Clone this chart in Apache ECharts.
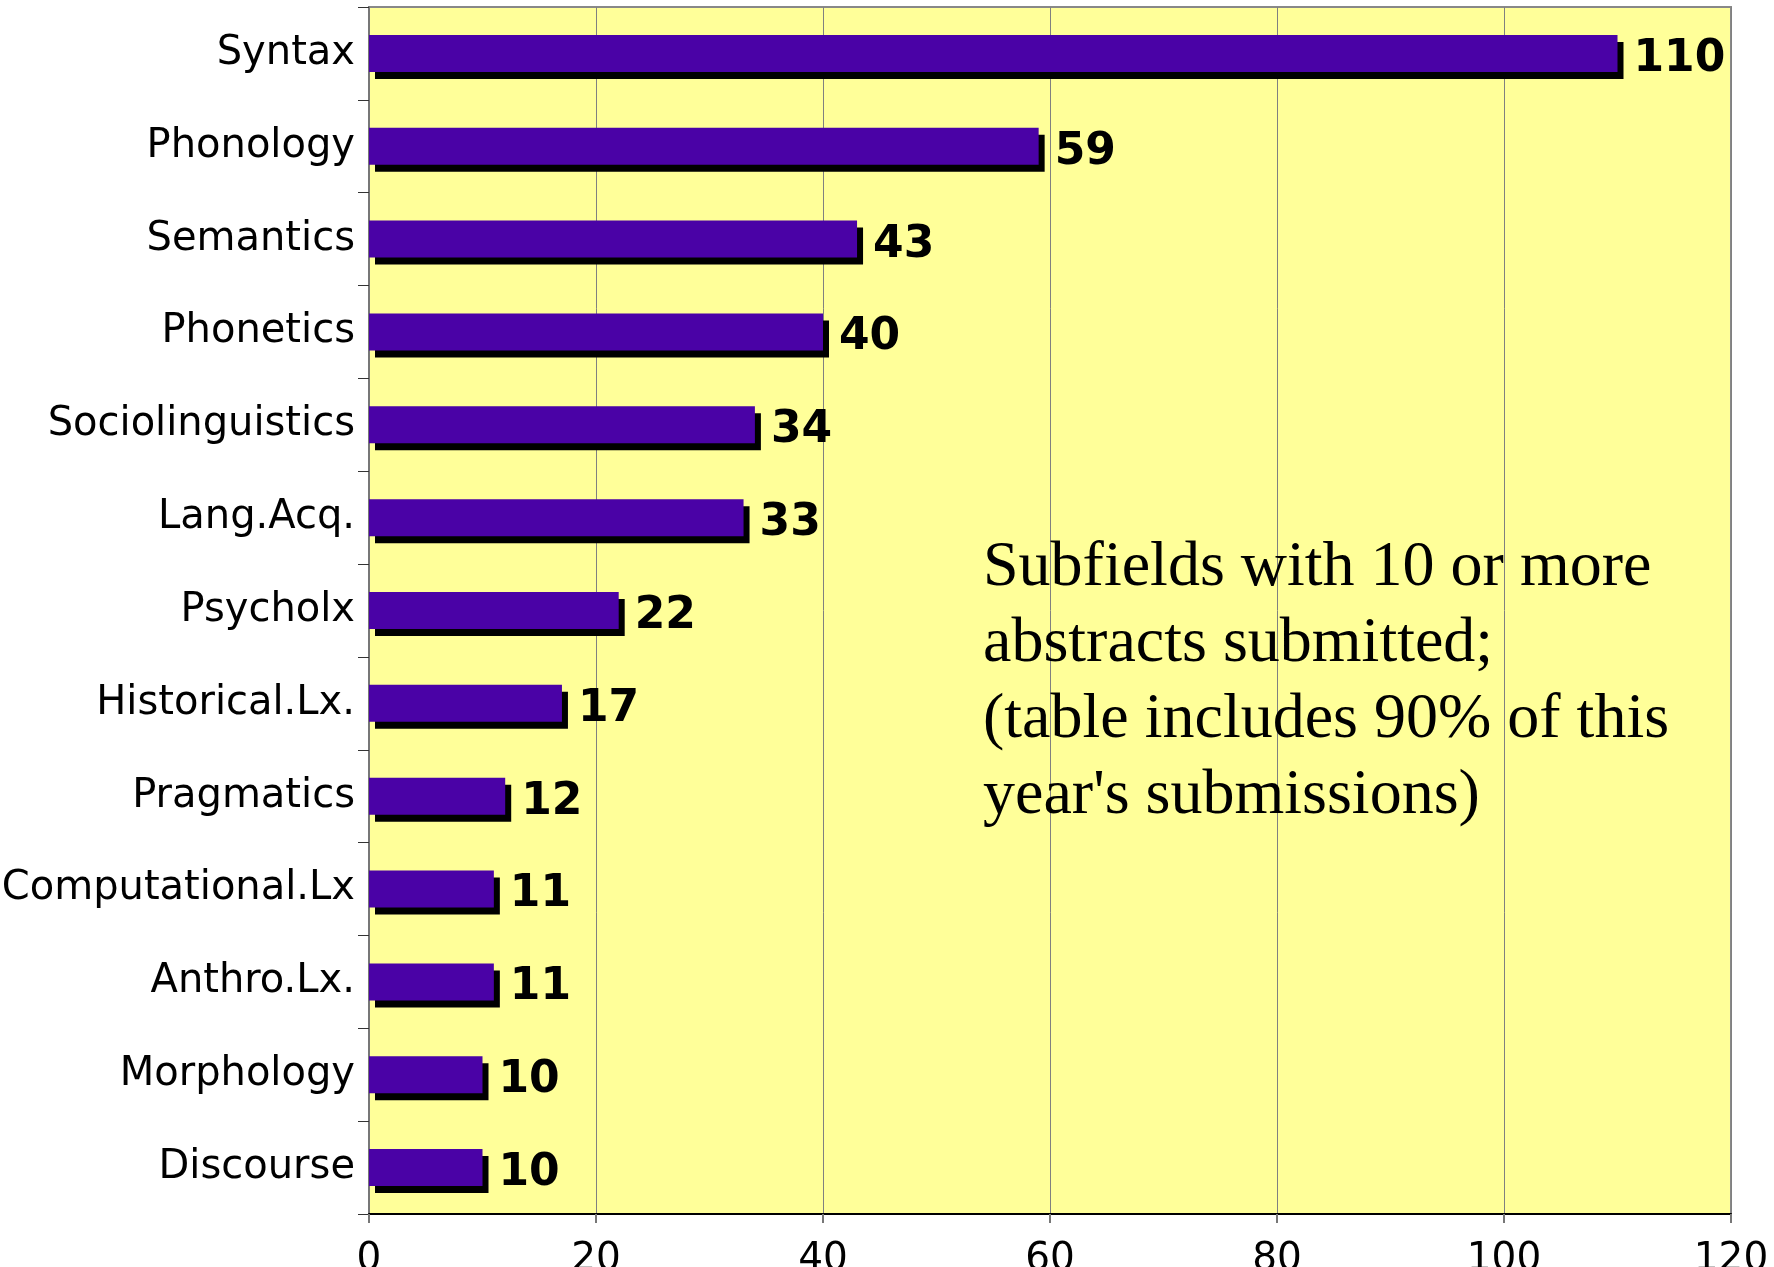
<!DOCTYPE html>
<html>
<head>
<meta charset="utf-8">
<script src="https://cdn.jsdelivr.net/npm/echarts@6/dist/echarts.min.js"></script>
<style>
  html, body { margin: 0; padding: 0; background: #fff; }
  #chart { width: 1774px; height: 1267px; }
</style>
</head>
<body>
<div id="chart"></div>
<script>
var categories = ['Syntax', 'Phonology', 'Semantics', 'Phonetics', 'Sociolinguistics',
    'Lang.Acq.', 'Psycholx', 'Historical.Lx.', 'Pragmatics', 'Computational.Lx',
    'Anthro.Lx.', 'Morphology', 'Discourse'];
var counts = [110, 59, 43, 40, 34, 33, 22, 17, 12, 11, 11, 10, 10];
var xTicks = [0, 20, 40, 60, 80, 100, 120];
var noteLines = ['Subfields with 10 or more', 'abstracts submitted;',
    '(table includes 90% of this', "year's submissions)"];

var chart = echarts.init(document.getElementById('chart'));
var option = {
    backgroundColor: '#ffffff',
    animation: false,
    grid: {
        left: 369,
        right: 43,
        top: 7,
        bottom: 53,
        outerBoundsMode: 'none',
        containLabel: false,
        show: true,
        backgroundColor: '#FFFF99',
        borderColor: '#888888',
        borderWidth: 2
    },
    xAxis: {
        type: 'value',
        min: xTicks[0],
        max: xTicks[xTicks.length - 1],
        interval: 20,
        axisLine: { show: true, lineStyle: { color: '#000000', width: 2 } },
        axisTick: { show: true, length: 9, lineStyle: { color: '#777777', width: 2 } },
        splitLine: { show: true, lineStyle: { color: '#808080', width: 1 } },
        axisLabel: {
            margin: 26,
            color: '#000000',
            fontFamily: 'DejaVu Sans',
            fontSize: 39
        }
    },
    yAxis: {
        type: 'category',
        inverse: true,
        data: categories,
        axisLine: { show: true, lineStyle: { color: '#777777', width: 2 } },
        axisTick: { show: true, length: 11, lineStyle: { color: '#333333', width: 1 } },
        axisLabel: {
            margin: 14,
            padding: [8, 0, 0, 0],
            color: '#000000',
            fontFamily: 'DejaVu Sans',
            fontSize: 40
        }
    },
    series: [{
        type: 'bar',
        data: counts,
        barWidth: 37,
        itemStyle: {
            color: '#4A02A6',
            shadowColor: '#000000',
            shadowBlur: 0,
            shadowOffsetX: 6,
            shadowOffsetY: 7
        },
        label: {
            show: true,
            position: 'right',
            distance: 16,
            offset: [0, 6],
            color: '#000000',
            fontFamily: 'DejaVu Sans',
            fontWeight: 'bold',
            fontSize: 44
        }
    }],
    graphic: [{
        type: 'text',
        left: 983,
        top: 530,
        z: 100,
        style: {
            text: noteLines.join('\n'),
            font: '64px "Liberation Serif"',
            lineHeight: 76,
            fill: '#000000'
        }
    }]
};
chart.setOption(option);
</script>
</body>
</html>
